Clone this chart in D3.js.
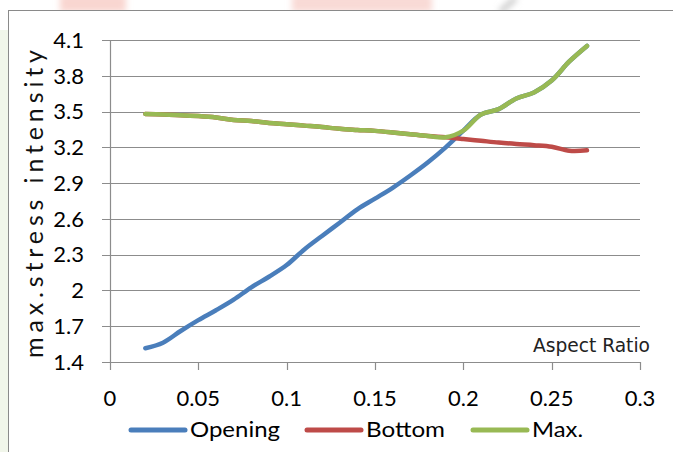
<!DOCTYPE html>
<html><head><meta charset="utf-8">
<script src="https://cdn.jsdelivr.net/npm/d3@7"></script>
<style>body{margin:0;background:#fff}svg{display:block}</style>
</head><body>
<script>
const xValues = [0.02,0.03,0.04,0.05,0.06,0.07,0.08,0.09,0.10,0.11,0.12,0.13,0.14,0.15,0.16,0.17,0.18,0.19,0.20,0.21,0.22,0.23,0.24,0.25,0.26,0.27];
const opening = [1.515,1.562,1.66,1.751,1.834,1.923,2.026,2.115,2.213,2.344,2.457,2.568,2.68,2.77,2.861,2.964,3.075,3.20,3.34,3.475,3.52,3.61,3.66,3.76,3.92,4.05];
const bottom  = [3.48,3.475,3.47,3.462,3.45,3.43,3.42,3.405,3.394,3.382,3.37,3.355,3.346,3.338,3.325,3.31,3.295,3.284,3.27,3.255,3.24,3.228,3.218,3.205,3.172,3.175];
const maxv    = [3.48,3.475,3.47,3.462,3.45,3.43,3.42,3.405,3.394,3.382,3.37,3.355,3.346,3.338,3.325,3.31,3.295,3.284,3.34,3.475,3.52,3.61,3.66,3.76,3.92,4.05];
const seriesNames = ["Opening","Bottom","Max."];
const seriesColors = ["#4a7ebb","#be4b48","#98b954"];
const yTicks = [1.4,1.7,2,2.3,2.6,2.9,3.2,3.5,3.8,4.1];
const xTicks = [0,0.05,0.1,0.15,0.2,0.25,0.3];
const yTitle = "max.stress intensity";
const xTitle = "Aspect Ratio";

const W = 673, H = 452;
const svg = d3.select("body").append("svg").attr("width", W).attr("height", H);
const font = "Lato, 'Open Sans', sans-serif";

// faint watermark remnants at top edge / left edge
const defs = svg.append("defs");
defs.append("filter").attr("id","blur").append("feGaussianBlur").attr("stdDeviation",3);
const wm = svg.append("g").attr("filter","url(#blur)");
wm.append("rect").attr("x",60).attr("y",-6).attr("width",66).attr("height",18).attr("fill","#f7c4bc").attr("opacity",0.7);
wm.append("rect").attr("x",292).attr("y",-6).attr("width",140).attr("height",18).attr("fill","#f7cbc4").attr("opacity",0.7);
wm.append("line").attr("x1",500).attr("y1",12).attr("x2",516).attr("y2",-2).attr("stroke","#c8c8c8").attr("stroke-width",5);
svg.append("rect").attr("x",0).attr("y",30).attr("width",8).attr("height",422).attr("fill","#f1f6ea");

// chart border (extends past right and bottom edges)
svg.append("rect").attr("x",8.5).attr("y",10.5).attr("width",700).attr("height",500)
  .attr("fill","#fff").attr("stroke","#8a8a8a").attr("stroke-width",1);

const x = d3.scaleLinear().domain([0,0.3]).range([110,640]);
const y = d3.scaleLinear().domain([1.4,4.1]).range([362,40]);

// gridlines
svg.append("g").selectAll("line").data(yTicks).join("line")
  .attr("x1",102).attr("x2",640)
  .attr("y1",d=>Math.round(y(d))+0.5).attr("y2",d=>Math.round(y(d))+0.5)
  .attr("stroke","#8c8c8c").attr("stroke-width",1.2);

// y axis line
svg.append("line").attr("x1",110.5).attr("x2",110.5).attr("y1",40).attr("y2",362)
  .attr("stroke","#8c8c8c").attr("stroke-width",1.2);
// x ticks
svg.append("g").selectAll("line").data(xTicks).join("line")
  .attr("x1",d=>Math.round(x(d))+0.5).attr("x2",d=>Math.round(x(d))+0.5)
  .attr("y1",362).attr("y2",370).attr("stroke","#8c8c8c").attr("stroke-width",1.2);

// y tick labels
svg.append("g").selectAll("text").data(yTicks).join("text")
  .attr("x",84).attr("y",d=>y(d)+7.8).attr("text-anchor","end")
  .attr("font-family",font).attr("font-size",22).attr("fill","#000")
  .text(d=>String(d));
// x tick labels
svg.append("g").selectAll("text").data(xTicks).join("text")
  .attr("x",d=>x(d)).attr("y",406).attr("text-anchor","middle")
  .attr("font-family",font).attr("font-size",22).attr("fill","#000")
  .text(d=>String(d));

// y title
svg.append("text").attr("transform","translate(43,204) rotate(-90)")
  .attr("text-anchor","middle").attr("font-family",font).attr("font-size",25)
  .attr("fill","#111").attr("textLength",308).attr("lengthAdjust","spacing").text(yTitle);

// x title
svg.append("text").attr("x",533).attr("y",352)
  .attr("font-family","'DejaVu Sans Condensed','DejaVu Sans',sans-serif").attr("font-size",19)
  .attr("fill","#222").attr("textLength",117).attr("lengthAdjust","spacingAndGlyphs").text(xTitle);

// lines
const data = [opening,bottom,maxv];
const line = d3.line().x((d,i)=>x(xValues[i])).y(d=>y(d)).curve(d3.curveCatmullRom.alpha(0.5));
svg.append("g").selectAll("path").data(data).join("path")
  .attr("d",d=>line(d)).attr("fill","none")
  .attr("stroke",(d,i)=>seriesColors[i]).attr("stroke-width",4.5)
  .attr("stroke-linecap","round").attr("stroke-linejoin","round");

// legend
const legX = [131,307,473];
const legW = [90,79,51];
const lg = svg.append("g").selectAll("g").data(seriesNames).join("g");
lg.append("line").attr("x1",(d,i)=>legX[i]).attr("x2",(d,i)=>legX[i]+54)
  .attr("y1",430).attr("y2",430).attr("stroke",(d,i)=>seriesColors[i])
  .attr("stroke-width",5).attr("stroke-linecap","round");
lg.append("text").attr("x",(d,i)=>legX[i]+59).attr("y",437)
  .attr("font-family",font).attr("font-size",22).attr("fill","#000")
  .attr("textLength",(d,i)=>legW[i]).attr("lengthAdjust","spacingAndGlyphs")
  .text(d=>d);
</script>
</body></html>
